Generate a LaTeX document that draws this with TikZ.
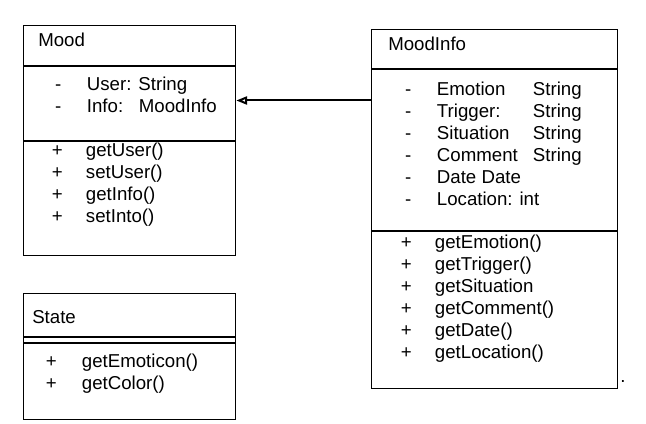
\documentclass[tikz,border=0pt]{standalone}
\usepackage{fontspec}
\setmainfont{Liberation Sans}
\usetikzlibrary{arrows.meta, positioning}

\tikzset{
  classbox/.style={draw, line width=1pt, anchor=north west, inner sep=0pt},
  title/.style={anchor=base west, inner sep=0pt, font=\fontsize{14}{16.5}\selectfont},
  members/.style={anchor=north west, inner sep=0pt, align=left, font=\fontsize{14}{16.5}\selectfont},
  assoc/.style={-{Triangle[open, length=8pt, width=6pt]}, line width=1.5pt},
}
\newcommand{\vis}[1]{\makebox[0pt]{#1}\hspace{21.5pt}}

\begin{document}
\begin{tikzpicture}[x=0.75pt, y=-0.75pt]
  \useasboundingbox (0,0) rectangle (646,424);

  % Class boxes
  \node[classbox, minimum width=159pt, minimum height=172.5pt] (mood) at (23,25) {};
  \node[classbox, minimum width=184.5pt, minimum height=269.25pt] (moodinfo) at (371,29) {};
  \node[classbox, minimum width=159pt, minimum height=94.5pt] (state) at (23,293) {};

  % Compartment lines
  \draw[line width=1pt] (mood.west |- 0,66) -- (mood.east |- 0,66)
    (mood.west |- 0,141) -- (mood.east |- 0,141);
  \draw[line width=1pt] (moodinfo.west |- 0,69) -- (moodinfo.east |- 0,69)
    (moodinfo.west |- 0,231) -- (moodinfo.east |- 0,231);
  \draw[line width=1pt] (state.west |- 0,337) -- (state.east |- 0,337)
    (state.west |- 0,343) -- (state.east |- 0,343);

  % Class names
  \node[title] (moodname) at (38,47) {Mood};
  \node[title] (moodinfoname) at (388,51) {MoodInfo};
  \node[title] (statename) at (32,323) {State};

  % Attributes and methods
  \node[members] (moodattr) at (58,77) {\vis{-}User: String\\
    \vis{-}\makebox[39pt][l]{Info:}MoodInfo};
  \node[members] (moodops) at (57,143) {\vis{+}getUser()\\
    \vis{+}setUser()\\
    \vis{+}getInfo()\\
    \vis{+}setInto()};
  \node[members] (moodinfoattr) at (408,82) {\vis{-}\makebox[72pt][l]{Emotion}String\\
    \vis{-}\makebox[72pt][l]{Trigger:}String\\
    \vis{-}\makebox[72pt][l]{Situation}String\\
    \vis{-}\makebox[72pt][l]{Comment}String\\
    \vis{-}Date~Date\\
    \vis{-}Location: int};
  \node[members] (moodinfoops) at (406,235) {\vis{+}getEmotion()\\
    \vis{+}getTrigger()\\
    \vis{+}getSituation\\
    \vis{+}getComment()\\
    \vis{+}getDate()\\
    \vis{+}getLocation()};
  \node[members] (stateops) at (51,354) {\vis{+}\hspace{1.5pt}getEmoticon()\\
    \vis{+}\hspace{1.5pt}getColor()};

  \node[title] (stop) at (620,382) {.};

  % Association
  \coordinate (assocstart) at (moodinfo.west |- 0,100.5);
  \draw[assoc] (assocstart) -- (assocstart -| mood.east);
\end{tikzpicture}
\end{document}
